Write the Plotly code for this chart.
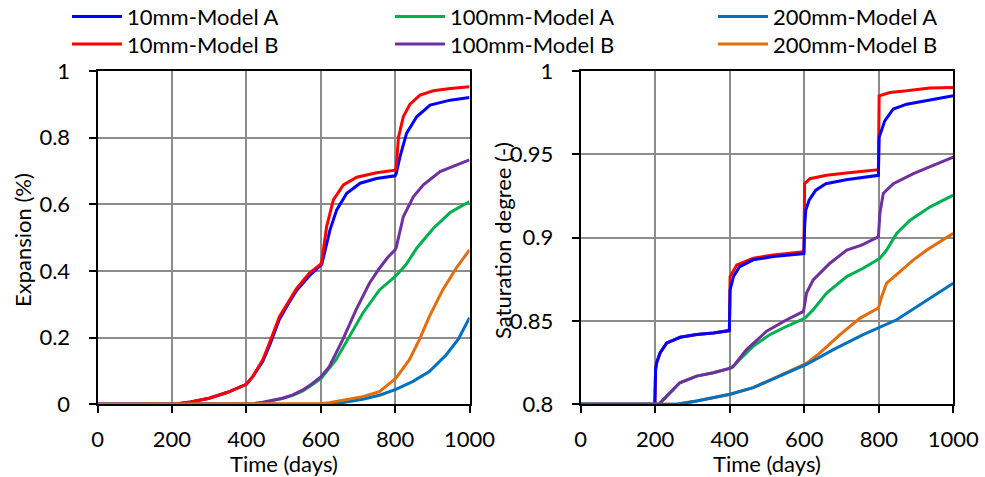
import plotly.graph_objects as go

# ---------------- Expansion (%) vs time ----------------
exp_10A_t = [0, 200, 210, 250, 300, 350, 400, 417, 444, 462, 489, 511, 534, 569, 600, 603, 625, 643, 670, 706, 750, 800, 803, 813, 831, 858, 894, 948, 1000]
exp_10A_v = [0, 0, 0.001, 0.007, 0.018, 0.036, 0.06, 0.082, 0.128, 0.175, 0.255, 0.298, 0.34, 0.385, 0.415, 0.42, 0.523, 0.583, 0.633, 0.663, 0.677, 0.685, 0.692, 0.742, 0.813, 0.862, 0.897, 0.912, 0.92]

exp_10B_t = [0, 200, 210, 250, 300, 350, 400, 417, 444, 462, 489, 511, 534, 569, 600, 603, 616, 634, 661, 697, 750, 800, 803, 809, 822, 840, 867, 903, 948, 1000]
exp_10B_v = [0, 0, 0.001, 0.007, 0.018, 0.036, 0.06, 0.083, 0.133, 0.183, 0.263, 0.303, 0.345, 0.393, 0.42, 0.43, 0.533, 0.613, 0.658, 0.681, 0.694, 0.702, 0.71, 0.80, 0.862, 0.90, 0.927, 0.94, 0.947, 0.952]

exp_100A_t = [0, 400, 420, 444, 470, 497, 525, 552, 575, 601, 641, 677, 713, 758, 802, 830, 858, 903, 948, 1000]
exp_100A_v = [0, 0, 0.002, 0.005, 0.01, 0.017, 0.027, 0.04, 0.057, 0.078, 0.133, 0.203, 0.273, 0.343, 0.385, 0.42, 0.468, 0.528, 0.575, 0.608]

exp_100B_t = [0, 400, 420, 444, 470, 497, 525, 552, 575, 601, 623, 659, 695, 731, 758, 780, 800, 803, 822, 849, 876, 921, 966, 1000]
exp_100B_v = [0, 0, 0.002, 0.006, 0.011, 0.018, 0.028, 0.043, 0.06, 0.083, 0.113, 0.193, 0.283, 0.363, 0.408, 0.44, 0.463, 0.47, 0.562, 0.622, 0.658, 0.698, 0.718, 0.733]

exp_200A_t = [0, 615, 660, 713, 760, 802, 847, 892, 937, 970, 1000]
exp_200A_v = [0, 0, 0.005, 0.015, 0.028, 0.045, 0.068, 0.098, 0.148, 0.195, 0.26]

exp_200B_t = [0, 470, 600, 623, 660, 713, 758, 802, 838, 865, 892, 928, 964, 1000]
exp_200B_v = [0, 0, 0.002, 0.005, 0.012, 0.023, 0.038, 0.078, 0.133, 0.193, 0.263, 0.343, 0.408, 0.463]

# ---------------- Saturation degree (-) vs time ----------------
sat_10A_t = [0, 199, 201, 204, 213, 231, 267, 311, 356, 399, 401, 410, 427, 463, 517, 599, 601, 604, 613, 631, 658, 712, 799, 801, 816, 839, 875, 937, 1000]
sat_10A_v = [0.8, 0.8, 0.821, 0.825, 0.8308, 0.8368, 0.8402, 0.8418, 0.8428, 0.8442, 0.8687, 0.8766, 0.8826, 0.8866, 0.8886, 0.8903, 0.9065, 0.9164, 0.9224, 0.9284, 0.9323, 0.9347, 0.9373, 0.9602, 0.970, 0.9771, 0.980, 0.9825, 0.985]

sat_10B_t = [0, 199, 201, 204, 213, 231, 267, 311, 356, 399, 401, 419, 463, 517, 599, 601, 615, 660, 713, 799, 801, 830, 875, 937, 1000]
sat_10B_v = [0.8, 0.8, 0.821, 0.825, 0.8308, 0.8368, 0.8402, 0.8418, 0.8428, 0.8442, 0.8766, 0.8836, 0.8876, 0.8895, 0.8915, 0.9323, 0.9353, 0.9373, 0.9387, 0.9407, 0.985, 0.987, 0.988, 0.9897, 0.990]

sat_100A_t = [0, 210, 240, 266, 311, 356, 406, 427, 463, 508, 553, 602, 624, 660, 714, 758, 803, 821, 848, 884, 938, 1000]
sat_100A_v = [0.8, 0.8, 0.807, 0.8129, 0.8169, 0.8189, 0.8219, 0.8269, 0.8348, 0.8418, 0.8468, 0.8517, 0.8567, 0.8667, 0.8766, 0.8816, 0.8876, 0.8925, 0.9025, 0.9104, 0.9184, 0.9254]

sat_100B_t = [0, 210, 240, 266, 311, 356, 400, 410, 445, 499, 553, 598, 606, 624, 669, 714, 754, 799, 803, 812, 839, 893, 946, 1000]
sat_100B_v = [0.8, 0.8, 0.807, 0.8129, 0.8169, 0.8189, 0.8215, 0.8229, 0.8328, 0.8438, 0.8507, 0.8557, 0.8667, 0.8746, 0.8846, 0.8925, 0.8955, 0.9005, 0.9144, 0.9264, 0.9323, 0.9383, 0.9433, 0.9482]

sat_200A_t = [0, 258, 311, 401, 463, 535, 606, 678, 758, 848, 911, 964, 1000]
sat_200A_v = [0.8, 0.8, 0.802, 0.806, 0.810, 0.8169, 0.8239, 0.8328, 0.8418, 0.8507, 0.8597, 0.8677, 0.8726]

sat_200B_t = [0, 258, 311, 401, 463, 535, 606, 642, 696, 750, 799, 808, 821, 857, 893, 929, 1000]
sat_200B_v = [0.8, 0.8, 0.802, 0.806, 0.810, 0.8175, 0.8245, 0.8308, 0.8418, 0.8517, 0.8577, 0.8647, 0.8726, 0.8796, 0.8866, 0.8925, 0.9025]

series_names = ["10mm-Model A", "100mm-Model A", "200mm-Model A",
                "10mm-Model B", "100mm-Model B", "200mm-Model B"]
series_colors = ["#0000FF", "#00B050", "#0070C0",
                 "#FF0000", "#7030A0", "#E46C0A"]
# Model A entries go in the first legend row, Model B entries in the second
series_legend = ["legend", "legend", "legend", "legend2", "legend2", "legend2"]

exp_data = [(exp_10A_t, exp_10A_v), (exp_100A_t, exp_100A_v), (exp_200A_t, exp_200A_v),
            (exp_10B_t, exp_10B_v), (exp_100B_t, exp_100B_v), (exp_200B_t, exp_200B_v)]
sat_data = [(sat_10A_t, sat_10A_v), (sat_100A_t, sat_100A_v), (sat_200A_t, sat_200A_v),
            (sat_10B_t, sat_10B_v), (sat_100B_t, sat_100B_v), (sat_200B_t, sat_200B_v)]

x_ticks = [0, 200, 400, 600, 800, 1000]

FONT = "Lato"
W, H = 985, 477
TOP = 60  # strip above the plotting area reserved for the legend

fig = go.Figure()

# left panel: B series drawn over A series
for (t, v), name, col, lg in zip(exp_data, series_names, series_colors, series_legend):
    fig.add_trace(go.Scatter(x=t, y=v, mode="lines", name=name,
                             line=dict(color=col, width=3),
                             xaxis="x", yaxis="y", showlegend=True, legend=lg))

# right panel: drawing order so the finer curves sit on top
sat_order = [3, 0, 1, 4, 5, 2]
for i in sat_order:
    t, v = sat_data[i]
    fig.add_trace(go.Scatter(x=t, y=v, mode="lines", name=series_names[i],
                             line=dict(color=series_colors[i], width=3),
                             xaxis="x2", yaxis="y2", showlegend=False))


def px_x(p):
    return p / W


def px_y(p):
    return (H - p) / (H - TOP)


left_dom = [px_x(97.5), px_x(469.5)]
right_dom = [px_x(580.7), px_x(953.3)]
y_dom = [px_y(404.3), px_y(70.8)]

axis_common = dict(
    showline=True, linecolor="black", linewidth=2, mirror=True,
    showgrid=True, gridcolor="#8c8c8c", gridwidth=2,
    zeroline=False, automargin=False,
    ticks="outside", ticklen=7, tickwidth=2, tickcolor="#000000",
    tickfont=dict(family=FONT, size=22, color="black"),
)

legend_common = dict(
    orientation="h", x=px_x(67), xanchor="left", yanchor="middle",
    entrywidth=258, entrywidthmode="pixels", itemwidth=50,
    font=dict(family=FONT, size=22, color="black"),
    bgcolor="rgba(0,0,0,0)",
)

fig.update_layout(
    width=W, height=H,
    margin=dict(l=0, r=0, t=TOP, b=0, autoexpand=False),
    paper_bgcolor="white", plot_bgcolor="white",
    font=dict(family=FONT, size=22, color="black"),
    xaxis=dict(domain=left_dom, range=[0, 1000], tickvals=x_ticks,
               anchor="y", ticklabelstandoff=7, **axis_common),
    yaxis=dict(domain=y_dom, range=[0, 1], dtick=0.2, tick0=0,
               anchor="x", ticklabelstandoff=14, **axis_common),
    xaxis2=dict(domain=right_dom, range=[0, 1000], tickvals=x_ticks,
                anchor="y2", ticklabelstandoff=7, **axis_common),
    yaxis2=dict(domain=y_dom, range=[0.8, 1.0], dtick=0.05, tick0=0.8,
                anchor="x2", ticklabelstandoff=14, **axis_common),
    legend=dict(y=px_y(16.7), **legend_common),
    legend2=dict(y=px_y(44.3), **legend_common),
    showlegend=True,
)

# axis titles
title_font = dict(family=FONT, size=22, color="black")
fig.add_annotation(text="Time (days)", x=(left_dom[0] + left_dom[1]) / 2, y=px_y(463),
                   xref="paper", yref="paper", xanchor="center", yanchor="middle",
                   showarrow=False, font=title_font)
fig.add_annotation(text="Time (days)", x=(right_dom[0] + right_dom[1]) / 2, y=px_y(463),
                   xref="paper", yref="paper", xanchor="center", yanchor="middle",
                   showarrow=False, font=title_font)
fig.add_annotation(text="Expansion (%)", x=px_x(22), y=px_y(240),
                   xref="paper", yref="paper", xanchor="center", yanchor="middle",
                   showarrow=False, textangle=-90, font=title_font)
fig.add_annotation(text="Saturation degree (-)", x=px_x(502), y=px_y(241),
                   xref="paper", yref="paper", xanchor="center", yanchor="middle",
                   showarrow=False, textangle=-90, font=title_font)

fig.write_html("out.html")
